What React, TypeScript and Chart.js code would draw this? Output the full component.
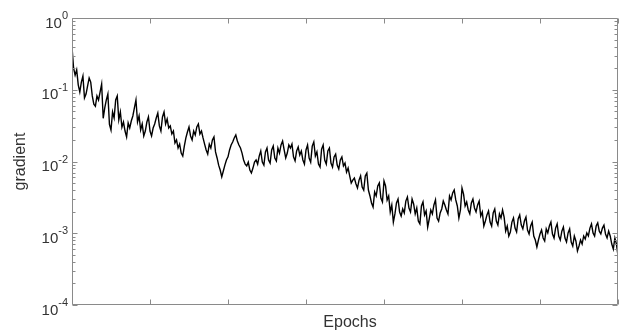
import React, { useEffect, useRef } from "react";
import { Chart, registerables } from "chart.js";

Chart.register(...registerables);

// gradient magnitude per recorded epoch (every 2 epochs, 0..700)
const gradientValues: number[] = [
  0.394, 0.201, 0.16, 0.189, 0.117, 0.093, 0.128, 0.155, 0.077, 0.087,
  0.113, 0.146, 0.128, 0.082, 0.063, 0.059, 0.082, 0.072, 0.093, 0.12,
  0.04, 0.056, 0.072, 0.087, 0.033, 0.0275, 0.049, 0.0404, 0.072, 0.082,
  0.038, 0.049, 0.03, 0.0355, 0.0266, 0.022, 0.0344, 0.0293, 0.0367, 0.0431,
  0.0557, 0.072, 0.0355, 0.0431, 0.0275, 0.0333, 0.0227, 0.0266, 0.0355, 0.0417,
  0.0266, 0.0227, 0.0293, 0.0333, 0.0404, 0.0474, 0.0313, 0.0266, 0.0417, 0.049,
  0.0333, 0.0391, 0.0293, 0.0313, 0.0242, 0.0266, 0.0181, 0.02, 0.0154, 0.0175,
  0.0131, 0.0119, 0.0164, 0.0213, 0.0258, 0.0303, 0.0227, 0.02, 0.0266, 0.0234,
  0.0303, 0.0333, 0.0242, 0.0266, 0.0213, 0.0175, 0.0145, 0.0127, 0.0175, 0.0154,
  0.02, 0.022, 0.0136, 0.0112, 0.0089, 0.0076, 0.0061, 0.00737, 0.0089, 0.0105,
  0.0116, 0.0145, 0.017, 0.0187, 0.0213, 0.0234, 0.0193, 0.017, 0.0154, 0.0131,
  0.0105, 0.0092, 0.0087, 0.0098, 0.0076, 0.00691, 0.0081, 0.0098, 0.0105, 0.0092,
  0.0119, 0.014, 0.0098, 0.0089, 0.0136, 0.0154, 0.0105, 0.0095, 0.0145, 0.0164,
  0.0112, 0.0102, 0.0154, 0.0131, 0.017, 0.0193, 0.0145, 0.0112, 0.0131, 0.017,
  0.0154, 0.0175, 0.0116, 0.0102, 0.014, 0.0159, 0.0123, 0.014, 0.0105, 0.0092,
  0.0145, 0.017, 0.0112, 0.0098, 0.0164, 0.0187, 0.0119, 0.0136, 0.0092, 0.00838,
  0.0149, 0.017, 0.0105, 0.0092, 0.014, 0.0154, 0.0095, 0.00838, 0.0116, 0.0127,
  0.0089, 0.00786, 0.0105, 0.0116, 0.0087, 0.0095, 0.0071, 0.0081, 0.0063, 0.00502,
  0.0055, 0.00589, 0.0049, 0.00427, 0.0055, 0.0063, 0.0044, 0.004, 0.0063, 0.00691,
  0.004, 0.00331, 0.00264, 0.00232, 0.00376, 0.00331, 0.00456, 0.00502, 0.0031, 0.00273,
  0.00535, 0.00456, 0.00291, 0.00331, 0.00198, 0.00248, 0.00143, 0.00186, 0.00264, 0.003,
  0.00198, 0.00174, 0.00218, 0.00192, 0.00281, 0.0032, 0.00225, 0.00198, 0.003, 0.00256,
  0.00186, 0.00225, 0.00148, 0.00135, 0.0024, 0.00273, 0.0018, 0.00204, 0.00122, 0.00158,
  0.00211, 0.00186, 0.00248, 0.00291, 0.00163, 0.00148, 0.00192, 0.00218, 0.00281, 0.00248,
  0.00211, 0.00186, 0.00331, 0.00291, 0.00364, 0.004, 0.00291, 0.0024, 0.00163, 0.00211,
  0.00427, 0.00352, 0.0024, 0.00273, 0.00211, 0.00186, 0.00264, 0.003, 0.00225, 0.00198,
  0.00248, 0.00281, 0.00174, 0.00198, 0.00126, 0.00148, 0.0018, 0.00204, 0.00143, 0.00126,
  0.00192, 0.00218, 0.00148, 0.0013, 0.00186, 0.00163, 0.00211, 0.00168, 0.00107, 0.00126,
  0.000916, 0.00104, 0.00143, 0.00163, 0.00118, 0.00104, 0.00158, 0.0018, 0.0013, 0.00115,
  0.00148, 0.00168, 0.00111, 0.000977, 0.00126, 0.00143, 0.000916, 0.000805, 0.000643, 0.000805,
  0.000977, 0.00111, 0.000859, 0.00078, 0.00115, 0.00101, 0.00126, 0.00143, 0.000977, 0.000859,
  0.00118, 0.00135, 0.000916, 0.000805, 0.00107, 0.00122, 0.000859, 0.000755, 0.00101, 0.00115,
  0.000755, 0.000664, 0.000916, 0.00078, 0.000566, 0.000664, 0.000805, 0.000708, 0.000916, 0.000832,
  0.00101, 0.000916, 0.00118, 0.00135, 0.00101, 0.000916, 0.00126, 0.00139, 0.00107, 0.000977,
  0.00118, 0.0013, 0.000977, 0.000859, 0.00107, 0.000916, 0.000708, 0.000603, 0.000859, 0.000708,
  0.000482,
];
const epochStep = 2;
const epochs: number[] = gradientValues.map((_, i) => i * epochStep);

const xTickValues: number[] = [0, 100, 200, 300, 400, 500, 600, 700];
const yTickExponents: number[] = [0, -1, -2, -3, -4];
const xLabel = "Epochs";
const yLabel = "gradient";

const FONT = '"Liberation Sans", Arial, Helvetica, sans-serif';
const AXIS_COLOR = "#8a8a8a";
const TEXT_COLOR = "#333333";

const axesPlugin = {
  id: "matlabAxes",
  afterDatasetsDraw(chart: any) {
    const ctx: CanvasRenderingContext2D = chart.ctx;
    const { left, right, top, bottom } = chart.chartArea;
    const xs = chart.scales.x;
    const ys = chart.scales.y;
    ctx.save();
    ctx.strokeStyle = AXIS_COLOR;
    ctx.lineWidth = 1;
    const L = Math.round(left) + 0.5;
    const R = Math.round(right) - 0.5;
    const T = Math.round(top) + 0.5;
    const B = Math.round(bottom) - 0.5;
    ctx.beginPath();
    ctx.rect(L, T, R - L, B - T);
    ctx.stroke();

    ctx.beginPath();
    xTickValues.forEach((v) => {
      const px = Math.round(xs.getPixelForValue(v)) + 0.5;
      ctx.moveTo(px, B);
      ctx.lineTo(px, B - 5);
      ctx.moveTo(px, T);
      ctx.lineTo(px, T + 5);
    });
    yTickExponents.forEach((e) => {
      const py = Math.round(ys.getPixelForValue(Math.pow(10, e))) + 0.5;
      ctx.moveTo(L, py);
      ctx.lineTo(L + 5, py);
      ctx.moveTo(R, py);
      ctx.lineTo(R - 5, py);
      if (e > -4) {
        for (let k = 2; k <= 9; k++) {
          const pm = Math.round(ys.getPixelForValue(k * Math.pow(10, e - 1))) + 0.5;
          ctx.moveTo(L, pm);
          ctx.lineTo(L + 3, pm);
          ctx.moveTo(R, pm);
          ctx.lineTo(R - 3, pm);
        }
      }
    });
    ctx.stroke();

    // y tick labels 10^e
    ctx.fillStyle = TEXT_COLOR;
    ctx.textBaseline = "alphabetic";
    ctx.textAlign = "left";
    yTickExponents.forEach((e) => {
      const py = ys.getPixelForValue(Math.pow(10, e));
      const exp = e === 0 ? "0" : "-" + String(-e);
      ctx.font = `11px ${FONT}`;
      const we = ctx.measureText(exp).width;
      ctx.font = `15px ${FONT}`;
      const wb = ctx.measureText("10").width;
      const endX = left - 4;
      ctx.fillText("10", endX - we - wb, py + 9.5);
      ctx.font = `11px ${FONT}`;
      ctx.fillText(exp, endX - we, py + 1);
    });

    // axis titles
    ctx.font = `16px ${FONT}`;
    ctx.textAlign = "center";
    ctx.fillText(xLabel, (left + right) / 2 + 5, bottom + 22);
    ctx.translate(25, (top + bottom) / 2);
    ctx.rotate(-Math.PI / 2);
    ctx.fillText(yLabel, 0, 0);
    ctx.restore();
  },
};

export default function App() {
  const ref = useRef<HTMLCanvasElement | null>(null);
  useEffect(() => {
    if (!ref.current) return;
    const chart = new Chart(ref.current, {
      type: "line",
      data: {
        datasets: [
          {
            label: yLabel,
            data: epochs.map((x, i) => ({ x, y: gradientValues[i] })),
            borderColor: "#000000",
            borderWidth: 1.4,
            pointRadius: 0,
            tension: 0,
            fill: false,
          },
        ],
      },
      options: {
        animation: false,
        responsive: false,
        devicePixelRatio: 1,
        layout: { padding: { left: 72, right: 5, top: 18, bottom: 29 } },
        plugins: { legend: { display: false }, tooltip: { enabled: false } },
        scales: {
          x: { type: "linear", min: 0, max: 700, display: false },
          y: { type: "logarithmic", min: 1e-4, max: 1, display: false },
        },
      },
      plugins: [axesPlugin],
    });
    return () => chart.destroy();
  }, []);
  return (
    <div style={{ position: "fixed", left: 0, top: 0, width: 623, height: 334, background: "#fff" }}>
      <canvas ref={ref} width={623} height={334} style={{ display: "block" }} />
    </div>
  );
}
